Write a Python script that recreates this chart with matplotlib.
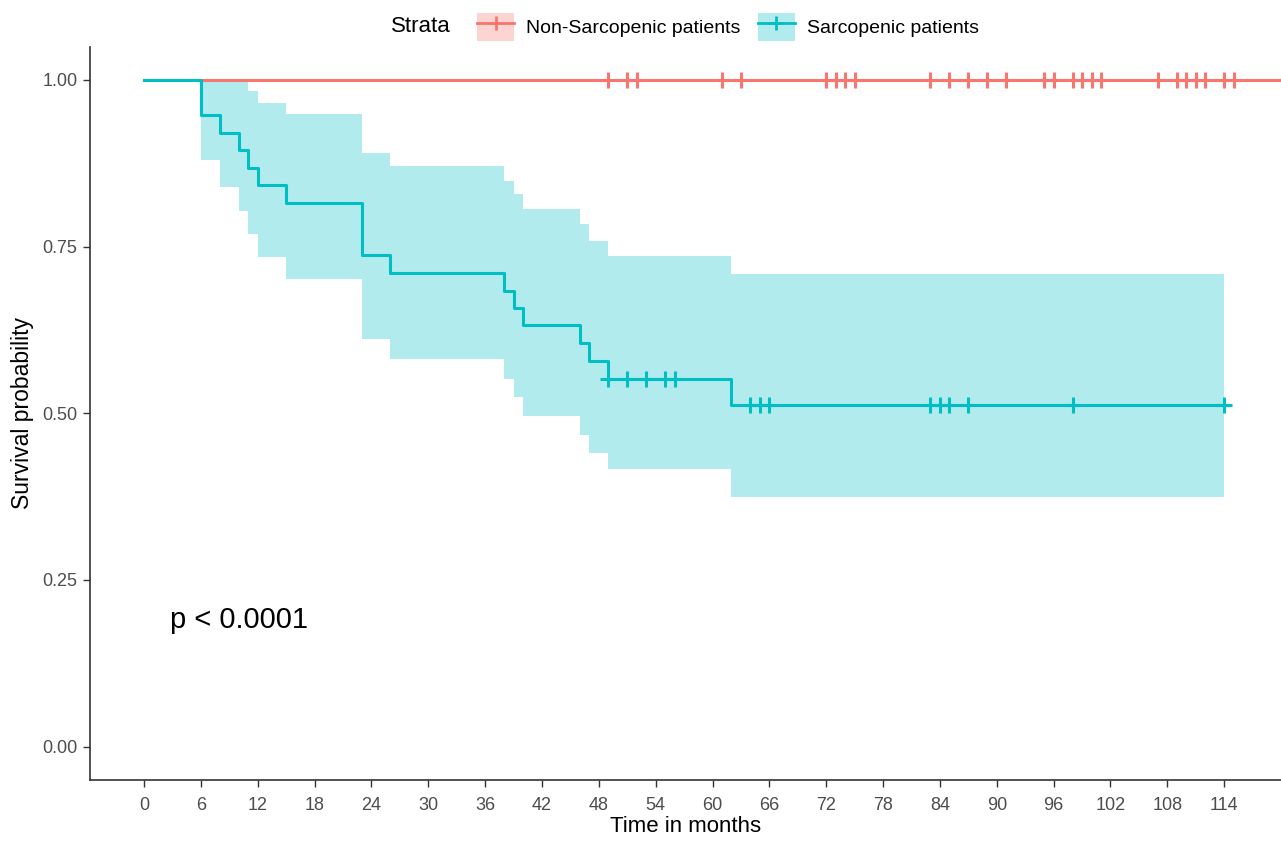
import numpy as np
import matplotlib
matplotlib.use("Agg")
import matplotlib.pyplot as plt
from matplotlib.patches import Patch
from matplotlib.lines import Line2D

plt.rcParams['font.family'] = ['Liberation Sans', 'DejaVu Sans']

# ---- data ----
groups = ["Non-Sarcopenic patients", "Sarcopenic patients"]
colors = ["#F8766D", "#00BFC4"]

non_times = [0, 120]
non_surv = [1.0, 1.0]
non_censor = [49, 51, 52, 61, 63, 72, 73, 74, 75, 83, 85, 87, 89, 91, 95, 96,
              98, 99, 100, 101, 107, 109, 110, 111, 112, 114, 115]

sarc_times = [0, 6, 8, 10, 11, 12, 15, 23, 26, 38, 39, 40, 46, 47, 49, 62]
sarc_surv = [1.0, 0.947, 0.921, 0.895, 0.868, 0.842, 0.816, 0.737, 0.711,
             0.684, 0.658, 0.632, 0.605, 0.579, 0.551, 0.513]
sarc_upper = [1.0, 1.0, 1.0, 1.0, 0.984, 0.966, 0.949, 0.890, 0.871,
              0.848, 0.829, 0.806, 0.784, 0.759, 0.736, 0.709]
sarc_lower = [1.0, 0.880, 0.839, 0.804, 0.769, 0.734, 0.701, 0.611, 0.581,
              0.551, 0.524, 0.496, 0.468, 0.440, 0.416, 0.375]
sarc_end = 114
sarc_censor = [49, 51, 53, 55, 56, 64, 65, 66, 83, 84, 85, 87, 98, 114]

x_ticks = list(range(0, 115, 6))
y_ticks = [0.00, 0.25, 0.50, 0.75, 1.00]
p_text = "p < 0.0001"

# ---- figure ----
fig = plt.figure(figsize=(12.81, 8.41), dpi=100)
ax = fig.add_axes([90 / 1281, 1 - 780 / 841, 1 - 90 / 1281, (780 - 46.6) / 841])

def step_value(times, vals, t):
    idx = np.searchsorted(np.asarray(times), t, side="right") - 1
    return np.asarray(vals)[idx]

# confidence band for sarcopenic
bt = sarc_times + [sarc_end]
bu = sarc_upper + [sarc_upper[-1]]
bl = sarc_lower + [sarc_lower[-1]]
ax.fill_between(bt, bl, bu, step="post", color=colors[1], alpha=0.3,
                linewidth=0, zorder=1)

# non-sarcopenic
ax.step(non_times, non_surv, where="post", color=colors[0], lw=2.2, zorder=3)
ax.plot(non_censor, step_value(non_times, non_surv, non_censor), ls="none",
        marker="+", ms=11, mew=2.2, color=colors[0], zorder=3)

# sarcopenic
st = sarc_times + [sarc_end]
ss = sarc_surv + [sarc_surv[-1]]
ax.step(st, ss, where="post", color=colors[1], lw=2.2, zorder=4)
ax.plot(sarc_censor, step_value(sarc_times, sarc_surv, sarc_censor), ls="none",
        marker="+", ms=11, mew=2.2, color=colors[1], zorder=4)

ax.set_xlim(-5.7, 120.0)
ax.set_ylim(-0.05, 1.05)
ax.set_xticks(x_ticks)
ax.set_xticklabels([str(v) for v in x_ticks])
ax.set_yticks(y_ticks)
ax.set_yticklabels([f"{v:.2f}" for v in y_ticks])
ax.tick_params(axis="both", colors="#333333", labelcolor="#4D4D4D",
               labelsize=13, length=5, width=1)
ax.tick_params(axis="x", pad=7)
ax.tick_params(axis="y", pad=4)
for s in ["top", "right"]:
    ax.spines[s].set_visible(False)
for s in ["left", "bottom"]:
    ax.spines[s].set_color("#333333")
    ax.spines[s].set_linewidth(1.2)

ax.set_xlabel("Time in months", fontsize=16, labelpad=2)
ax.set_ylabel("Survival probability", fontsize=16.5, labelpad=6)

ax.text(2.7, 0.19, p_text, fontsize=21, ha="left", va="center")

# legend
handles = []
for c in colors:
    handles.append((Patch(facecolor=c, alpha=0.3, edgecolor="none"),
                    Line2D([], [], color=c, lw=2, marker="+", ms=10, mew=2)))
fig.text(421 / 1281, 1 - 27 / 841, "Strata", fontsize=16, ha="center", va="center")
leg = fig.legend(handles, groups, loc="center", ncol=2,
                 bbox_to_anchor=(728 / 1281, 1 - 27 / 841), frameon=False,
                 fontsize=14, handlelength=1.9, handleheight=1.9,
                 columnspacing=0.9, handletextpad=0.6, borderaxespad=0)

fig.savefig("out.png", dpi=100)
